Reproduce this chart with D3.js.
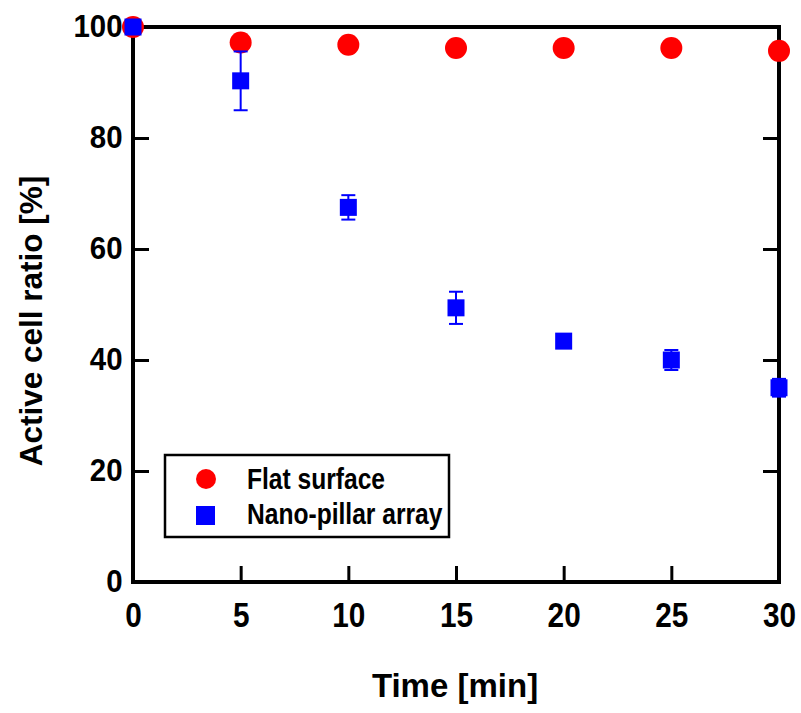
<!DOCTYPE html>
<html>
<head>
<meta charset="utf-8">
<script src="https://cdn.jsdelivr.net/npm/d3@7"></script>
<style>
  body { margin: 0; background: #fff; }
  text { font-family: "Liberation Sans", Arial, sans-serif; font-weight: bold; }
</style>
</head>
<body>
<div id="chart"></div>
<script>
// Data.
const times = [0, 5, 10, 15, 20, 25, 30];
const flatSurface = [100, 97.2, 96.8, 96.2, 96.2, 96.2, 95.7];
const nanoPillar = [100, 90.3, 67.5, 49.4, 43.4, 40.0, 35.0];
const nanoPillarErr = [0, 5.3, 2.2, 2.9, 1.2, 1.8, 1.6];
const xTicks = [0, 5, 10, 15, 20, 25, 30];
const yTicks = [0, 20, 40, 60, 80, 100];

const totalWidth = 801;
const totalHeight = 713;
const margin = {top: 27, right: 22, bottom: 131, left: 133};
const width = totalWidth - margin.left - margin.right;
const height = totalHeight - margin.top - margin.bottom;

const svg = d3.select("#chart")
  .append("svg")
  .attr("width", totalWidth)
  .attr("height", totalHeight)
  .append("g")
  .attr("transform", `translate(${margin.left}, ${margin.top})`);

const x = d3.scaleLinear().domain([0, 30]).range([0, width]);
const y = d3.scaleLinear().domain([0, 100]).range([height, 0]);

// Inward ticks on bottom, left and right. The source font is a condensed one,
// so labels get squeezed horizontally.
const tickLen = 16;
svg.append("g")
  .attr("transform", `translate(0, ${height})`)
  .call(d3.axisBottom(x).tickValues(xTicks).tickSize(-tickLen).tickPadding(20))
  .call(g => g.select(".domain").remove())
  .call(g => g.selectAll("line").attr("stroke-width", 3))
  .call(g => g.selectAll("text")
    .style("font-size", "35px")
    .attr("fill", "#000")
    .attr("transform", "scale(0.85,1)"));

svg.append("g")
  .call(d3.axisLeft(y).tickValues(yTicks).tickSize(-tickLen).tickPadding(11))
  .call(g => g.select(".domain").remove())
  .call(g => g.selectAll("line").attr("stroke-width", 3))
  .call(g => g.selectAll("text")
    .style("font-size", "31px")
    .attr("fill", "#000")
    .attr("transform", "scale(0.95,1)"));

svg.append("g")
  .attr("transform", `translate(${width}, 0)`)
  .call(d3.axisRight(y).tickValues(yTicks).tickSize(-tickLen).tickFormat(""))
  .call(g => g.select(".domain").remove())
  .call(g => g.selectAll("line").attr("stroke-width", 3));

// Frame
svg.append("rect")
  .attr("x", 0).attr("y", 0)
  .attr("width", width).attr("height", height)
  .attr("fill", "none")
  .attr("stroke", "#000")
  .attr("stroke-width", 4);

// Axis titles
svg.append("text")
  .attr("x", x(15) - 1)
  .attr("y", height + 115)
  .attr("text-anchor", "middle")
  .style("font-size", "33px")
  .text("Time [min]");

svg.append("text")
  .attr("transform", `translate(${-91}, ${321 - margin.top}) rotate(-90)`)
  .attr("text-anchor", "middle")
  .style("font-size", "31.5px")
  .text("Active cell ratio [%]");

// Flat surface: red circles
svg.selectAll(".flat")
  .data(times.map((t, i) => ({t: t, v: flatSurface[i]})))
  .join("circle")
    .attr("class", "flat")
    .attr("cx", d => x(d.t))
    .attr("cy", d => y(d.v))
    .attr("r", 11)
    .attr("fill", "#ff0000");

// Nano-pillar array: blue squares with error bars
const nano = times.map((t, i) => ({t: t, v: nanoPillar[i], e: nanoPillarErr[i]}));
const capW = 7;
const err = svg.selectAll(".err")
  .data(nano.filter(d => d.e > 0))
  .join("g")
    .attr("class", "err")
    .attr("stroke", "#0000ff")
    .attr("stroke-width", 2);
err.append("line")
  .attr("x1", d => x(d.t)).attr("x2", d => x(d.t))
  .attr("y1", d => y(d.v + d.e)).attr("y2", d => y(d.v - d.e));
err.append("line")
  .attr("x1", d => x(d.t) - capW).attr("x2", d => x(d.t) + capW)
  .attr("y1", d => y(d.v + d.e)).attr("y2", d => y(d.v + d.e));
err.append("line")
  .attr("x1", d => x(d.t) - capW).attr("x2", d => x(d.t) + capW)
  .attr("y1", d => y(d.v - d.e)).attr("y2", d => y(d.v - d.e));

const sq = 17;
svg.selectAll(".nano")
  .data(nano)
  .join("rect")
    .attr("class", "nano")
    .attr("x", d => x(d.t) - sq / 2)
    .attr("y", d => y(d.v) - sq / 2)
    .attr("width", sq)
    .attr("height", sq)
    .attr("fill", "#0000ff");

// Legend
const legend = svg.append("g").attr("transform", `translate(${165 - margin.left}, ${455 - margin.top})`);
legend.append("rect")
  .attr("width", 284).attr("height", 82)
  .attr("fill", "#fff")
  .attr("stroke", "#000")
  .attr("stroke-width", 2.5);
legend.append("circle")
  .attr("cx", 41).attr("cy", 24).attr("r", 10)
  .attr("fill", "#ff0000");
legend.append("rect")
  .attr("x", 31).attr("y", 51).attr("width", 19).attr("height", 19)
  .attr("fill", "#0000ff");
legend.append("text")
  .attr("transform", "translate(82,34) scale(0.82,1)")
  .style("font-size", "30px")
  .text("Flat surface");
legend.append("text")
  .attr("transform", "translate(82,69) scale(0.82,1)")
  .style("font-size", "30px")
  .text("Nano-pillar array");
</script>
</body>
</html>
